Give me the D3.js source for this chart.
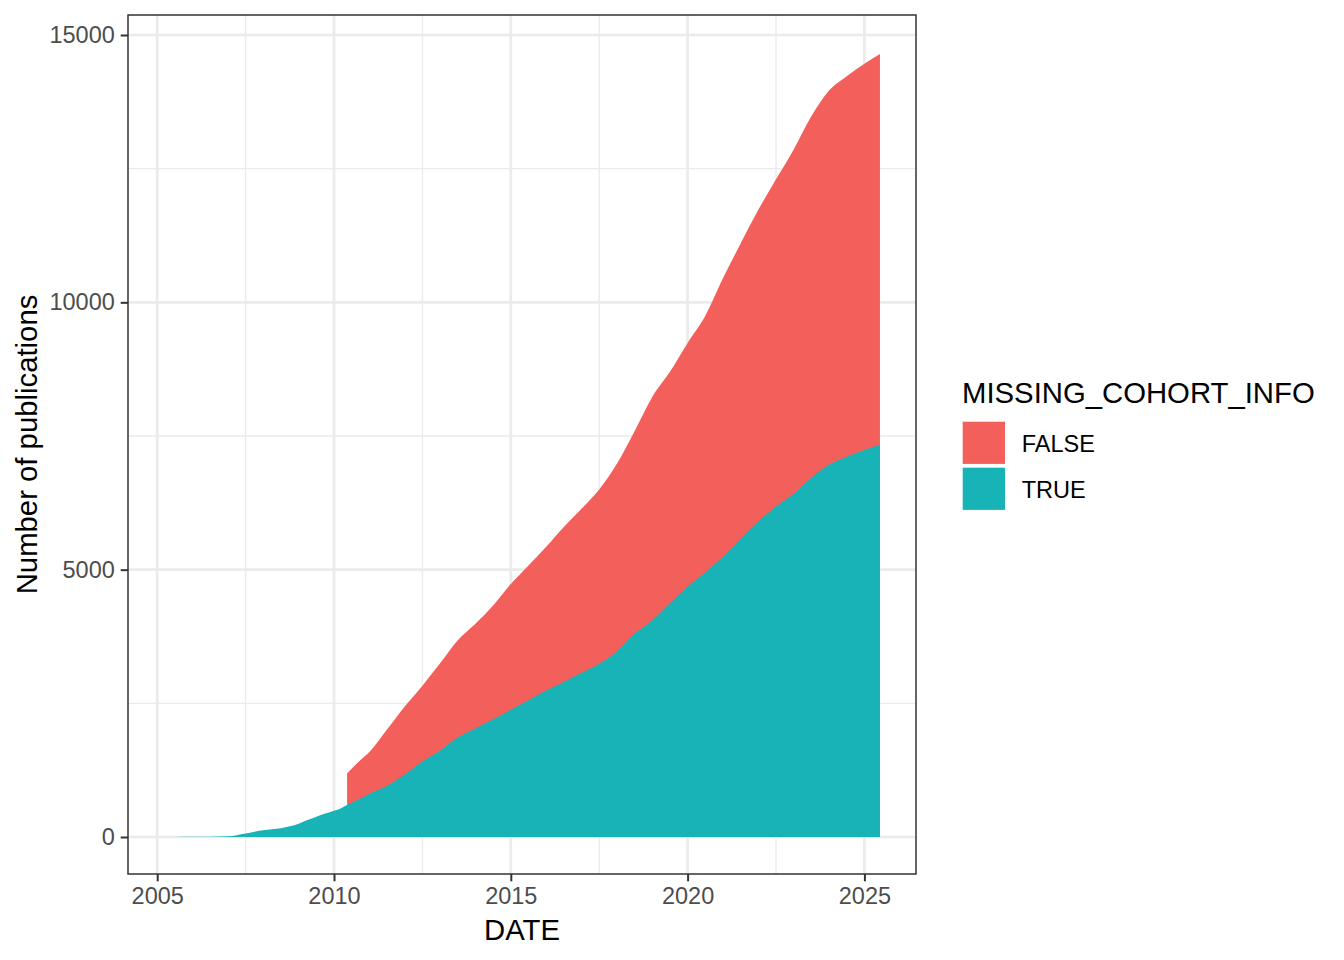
<!DOCTYPE html>
<html><head><meta charset="utf-8">
<script src="https://cdn.jsdelivr.net/npm/d3@7"></script>
<style>body{margin:0;background:#fff} text{font-family:"Liberation Sans",Arial,Helvetica,sans-serif}</style>
</head><body><svg id="chart" width="1344" height="960"></svg>
<script>
// decimal-year dates
const dates = [2005.2, 2005.5, 2006, 2006.5, 2007, 2007.25, 2007.5, 2007.75, 2008, 2008.25, 2008.5, 2008.75,
  2009, 2009.25, 2009.5, 2009.75, 2010, 2010.2, 2010.37, 2010.75, 2011, 2011.5, 2012, 2012.5, 2013, 2013.5,
  2014, 2014.5, 2015, 2015.5, 2016, 2016.5, 2017, 2017.5, 2018, 2018.5, 2019, 2019.5, 2020, 2020.5,
  2021, 2021.5, 2022, 2022.5, 2023, 2023.5, 2024, 2024.5, 2025, 2025.44];
// cumulative publications with MISSING_COHORT_INFO = TRUE
const trueCounts = [0, 1, 3, 6, 12, 35, 65, 100, 125, 145, 165, 200,
  250, 318, 380, 440, 492, 540, 598, 720, 810, 960, 1170, 1410, 1620, 1860,
  2030, 2200, 2380, 2560, 2740, 2900, 3070, 3240, 3470, 3800, 4050, 4370, 4680, 4950,
  5240, 5580, 5900, 6180, 6420, 6720, 6960, 7110, 7240, 7331];
// cumulative publications with MISSING_COHORT_INFO = FALSE (no data before mid-2010)
const falseCounts = [null, null, null, null, null, null, null, null, null, null, null, null,
  null, null, null, null, null, null, 592, 720, 780, 1050, 1270, 1420, 1630, 1820,
  1960, 2130, 2350, 2520, 2690, 2900, 3070, 3260, 3510, 3790, 4180, 4330, 4560, 4800,
  5210, 5520, 5830, 6120, 6440, 6760, 7000, 7120, 7220, 7312];

const xTicks = [2005, 2010, 2015, 2020, 2025];
const xMinor = [2007.5, 2012.5, 2017.5, 2022.5];
const yTicks = [0, 5000, 10000, 15000];
const yMinor = [2500, 7500, 12500];
const seriesNames = ["FALSE", "TRUE"];
const seriesColors = ["#F35F5A", "#18B3B7"];

const svg = d3.select("#chart");
const P = {left: 128, right: 916, top: 15, bottom: 874};
const x = d3.scaleLinear().domain([2005, 2025]).range([157.2, 864.4]);
const y = d3.scaleLinear().domain([0, 15000]).range([837, 35]);

const rows = dates.map((d, i) => ({date: d, t: trueCounts[i], f: falseCounts[i]}));

// grid
const g = svg.append("g");
g.selectAll(".vmin").data(xMinor).join("line")
  .attr("x1", d => x(d)).attr("x2", d => x(d)).attr("y1", P.top).attr("y2", P.bottom)
  .attr("stroke", "#EBEBEB").attr("stroke-width", 1.4);
g.selectAll(".hmin").data(yMinor).join("line")
  .attr("y1", d => y(d)).attr("y2", d => y(d)).attr("x1", P.left).attr("x2", P.right)
  .attr("stroke", "#EBEBEB").attr("stroke-width", 1.4);
g.selectAll(".vmaj").data(xTicks).join("line")
  .attr("x1", d => x(d)).attr("x2", d => x(d)).attr("y1", P.top).attr("y2", P.bottom)
  .attr("stroke", "#EBEBEB").attr("stroke-width", 2.7);
g.selectAll(".hmaj").data(yTicks).join("line")
  .attr("y1", d => y(d)).attr("y2", d => y(d)).attr("x1", P.left).attr("x2", P.right)
  .attr("stroke", "#EBEBEB").attr("stroke-width", 2.7);

// areas (stacked: FALSE on top of TRUE; TRUE drawn over the FALSE base)
const areaTrue = d3.area().curve(d3.curveMonotoneX)
  .x(d => x(d.date)).y0(y(0)).y1(d => y(d.t));
const areaFalse = d3.area().curve(d3.curveMonotoneX).defined(d => d.f != null)
  .x(d => x(d.date)).y0(y(0)).y1(d => y(d.t + d.f));
svg.append("path").datum(rows).attr("d", areaFalse).attr("fill", seriesColors[0]);
svg.append("path").datum(rows).attr("d", areaTrue).attr("fill", seriesColors[1]);

// panel border
svg.append("rect").attr("x", P.left).attr("y", P.top)
  .attr("width", P.right - P.left).attr("height", P.bottom - P.top)
  .attr("fill", "none").attr("stroke", "#333333").attr("stroke-width", 1.5);

// axes
const xAxis = svg.append("g").attr("transform", `translate(0,${P.bottom})`)
  .call(d3.axisBottom(x).tickValues(xTicks).tickFormat(d3.format("d")).tickSize(7.3).tickPadding(5.9));
const yAxis = svg.append("g").attr("transform", `translate(${P.left},0)`)
  .call(d3.axisLeft(y).tickValues(yTicks).tickFormat(d3.format("d")).tickSize(7.3).tickPadding(5.9));
[xAxis, yAxis].forEach(a => {
  a.select(".domain").remove();
  a.selectAll(".tick line").attr("stroke", "#333333").attr("stroke-width", 2);
  a.selectAll(".tick text").attr("fill", "#4D4D4D").style("font-size", "23.5px")
    .style("font-family", '"Liberation Sans",Arial,sans-serif');
});

// axis titles
svg.append("text").attr("x", (P.left + P.right) / 2).attr("y", 940).attr("text-anchor", "middle")
  .style("font-size", "29.3px").attr("fill", "#000").text("DATE");
svg.append("text").attr("transform", `translate(37,${(P.top + P.bottom) / 2}) rotate(-90)`)
  .attr("text-anchor", "middle").style("font-size", "29.3px").attr("fill", "#000")
  .text("Number of publications");

// legend
const lg = svg.append("g");
lg.append("text").attr("x", 962).attr("y", 403.3).style("font-size", "29.3px").attr("fill", "#000")
  .text("MISSING_COHORT_INFO");
const keyY = [421.7, 467.7];
seriesNames.forEach((n, i) => {
  lg.append("rect").attr("x", 962.7).attr("y", keyY[i]).attr("width", 42.3).attr("height", 42.2)
    .attr("fill", seriesColors[i]);
  lg.append("text").attr("x", 1021.7).attr("y", keyY[i] + 30.7).style("font-size", "23.5px")
    .attr("fill", "#000").text(n);
});
</script></body></html>
